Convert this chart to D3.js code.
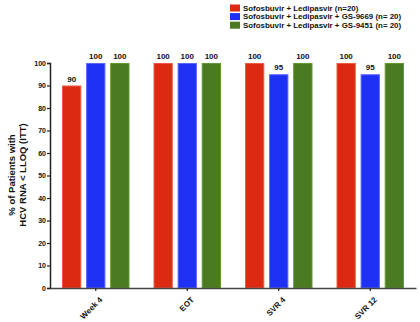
<!DOCTYPE html>
<html><head><meta charset="utf-8">
<script src="https://cdn.jsdelivr.net/npm/d3@7"></script>
<style>body{margin:0;background:#fff}svg{display:block}text{font-family:"Liberation Sans",Arial,sans-serif;font-weight:bold}</style>
</head><body><svg id="c" width="420" height="322"></svg>
<script>
const categories = ["Week 4", "EOT", "SVR 4", "SVR 12"];
const seriesNames = ["Sofosbuvir + Ledipasvir (n=20)", "Sofosbuvir + Ledipasvir + GS-9669 (n= 20)", "Sofosbuvir + Ledipasvir + GS-9451 (n= 20)"];
const sofLdv = [90, 100, 100, 100];
const sofLdv9669 = [100, 100, 95, 95];
const sofLdv9451 = [100, 100, 100, 100];
const yTicks = [0, 10, 20, 30, 40, 50, 60, 70, 80, 90, 100];
const colors = ["#dc2a12", "#1f30f5", "#4a7b22"];
const strokes = ["#ee5a44", "#5a66ff", "#62982e"];
const series = [sofLdv, sofLdv9669, sofLdv9451];

const svg = d3.select("#c");
const m = {l: 50, r: 4, t: 63, b: 34};
const W = 420, H = 322;
const x = d3.scaleBand().domain(categories).range([m.l, W - m.r]).paddingInner(0).paddingOuter(0);
const x1 = d3.scaleBand().domain(d3.range(3)).range([12, x.bandwidth() - 12]).paddingInner(0.2).paddingOuter(0);
const y = d3.scaleLinear().domain([0, 100]).range([H - m.b - 0, m.t]);

// bars
categories.forEach((c, ci) => {
  series.forEach((s, si) => {
    svg.append("rect")
      .attr("x", x(c) + x1(si) + 0.5)
      .attr("y", y(s[ci]) + 0.5)
      .attr("width", x1.bandwidth() - 1)
      .attr("height", y(0) - y(s[ci]) - 0.5)
      .attr("fill", colors[si]).attr("stroke", strokes[si]).attr("stroke-width", 1);
    svg.append("text")
      .attr("x", x(c) + x1(si) + x1.bandwidth() / 2)
      .attr("y", y(s[ci]) - 4)
      .attr("text-anchor", "middle").attr("font-size", 8).attr("fill", "#111")
      .text(s[ci]);
  });
});

// y axis
const ya = svg.append("g").attr("transform", `translate(${m.l},0)`)
  .call(d3.axisLeft(y).tickValues(yTicks).tickSize(3).tickPadding(1));
ya.select(".domain").attr("stroke", "#222").attr("stroke-width", 1.5);
ya.selectAll(".tick line").attr("stroke", "#222").attr("stroke-width", 1.2);
ya.selectAll(".tick text").attr("font-size", 7).attr("font-family", "Liberation Sans, Arial, sans-serif").attr("font-weight", "bold").attr("fill", "#111");

// x axis
const xa = svg.append("g").attr("transform", `translate(0,${y(0)})`)
  .call(d3.axisBottom(x).tickSize(3).tickSizeOuter(0));
xa.select(".domain").attr("stroke", "#444").attr("stroke-width", 1.5);
xa.selectAll(".tick line").attr("stroke", "#222").attr("stroke-width", 1.2);
xa.selectAll(".tick text").attr("font-size", 8).attr("font-family", "Liberation Sans, Arial, sans-serif").attr("font-weight", "bold").attr("fill", "#111")
  .attr("text-anchor", "end").attr("dy", 0).attr("dx", 0)
  .attr("transform", "translate(3,8) rotate(-45)");

// y label
const yl = svg.append("text").attr("transform", `translate(0,175) rotate(-90)`).attr("text-anchor", "middle").attr("font-size", 9.5).attr("fill", "#111");
yl.append("tspan").attr("x", 0).attr("y", 15).text("% of Patients with");
yl.append("tspan").attr("x", 0).attr("y", 26).text("HCV RNA < LLOQ (ITT)");

// legend
seriesNames.forEach((n, i) => {
  const g = svg.append("g").attr("transform", `translate(230,${4.5 + i * 8.6})`);
  g.append("rect").attr("width", 10).attr("height", 7).attr("fill", colors[i]);
  g.append("text").attr("x", 13).attr("y", 6.3).attr("font-size", 7.9).attr("fill", "#111").text(n);
});
</script></body></html>
